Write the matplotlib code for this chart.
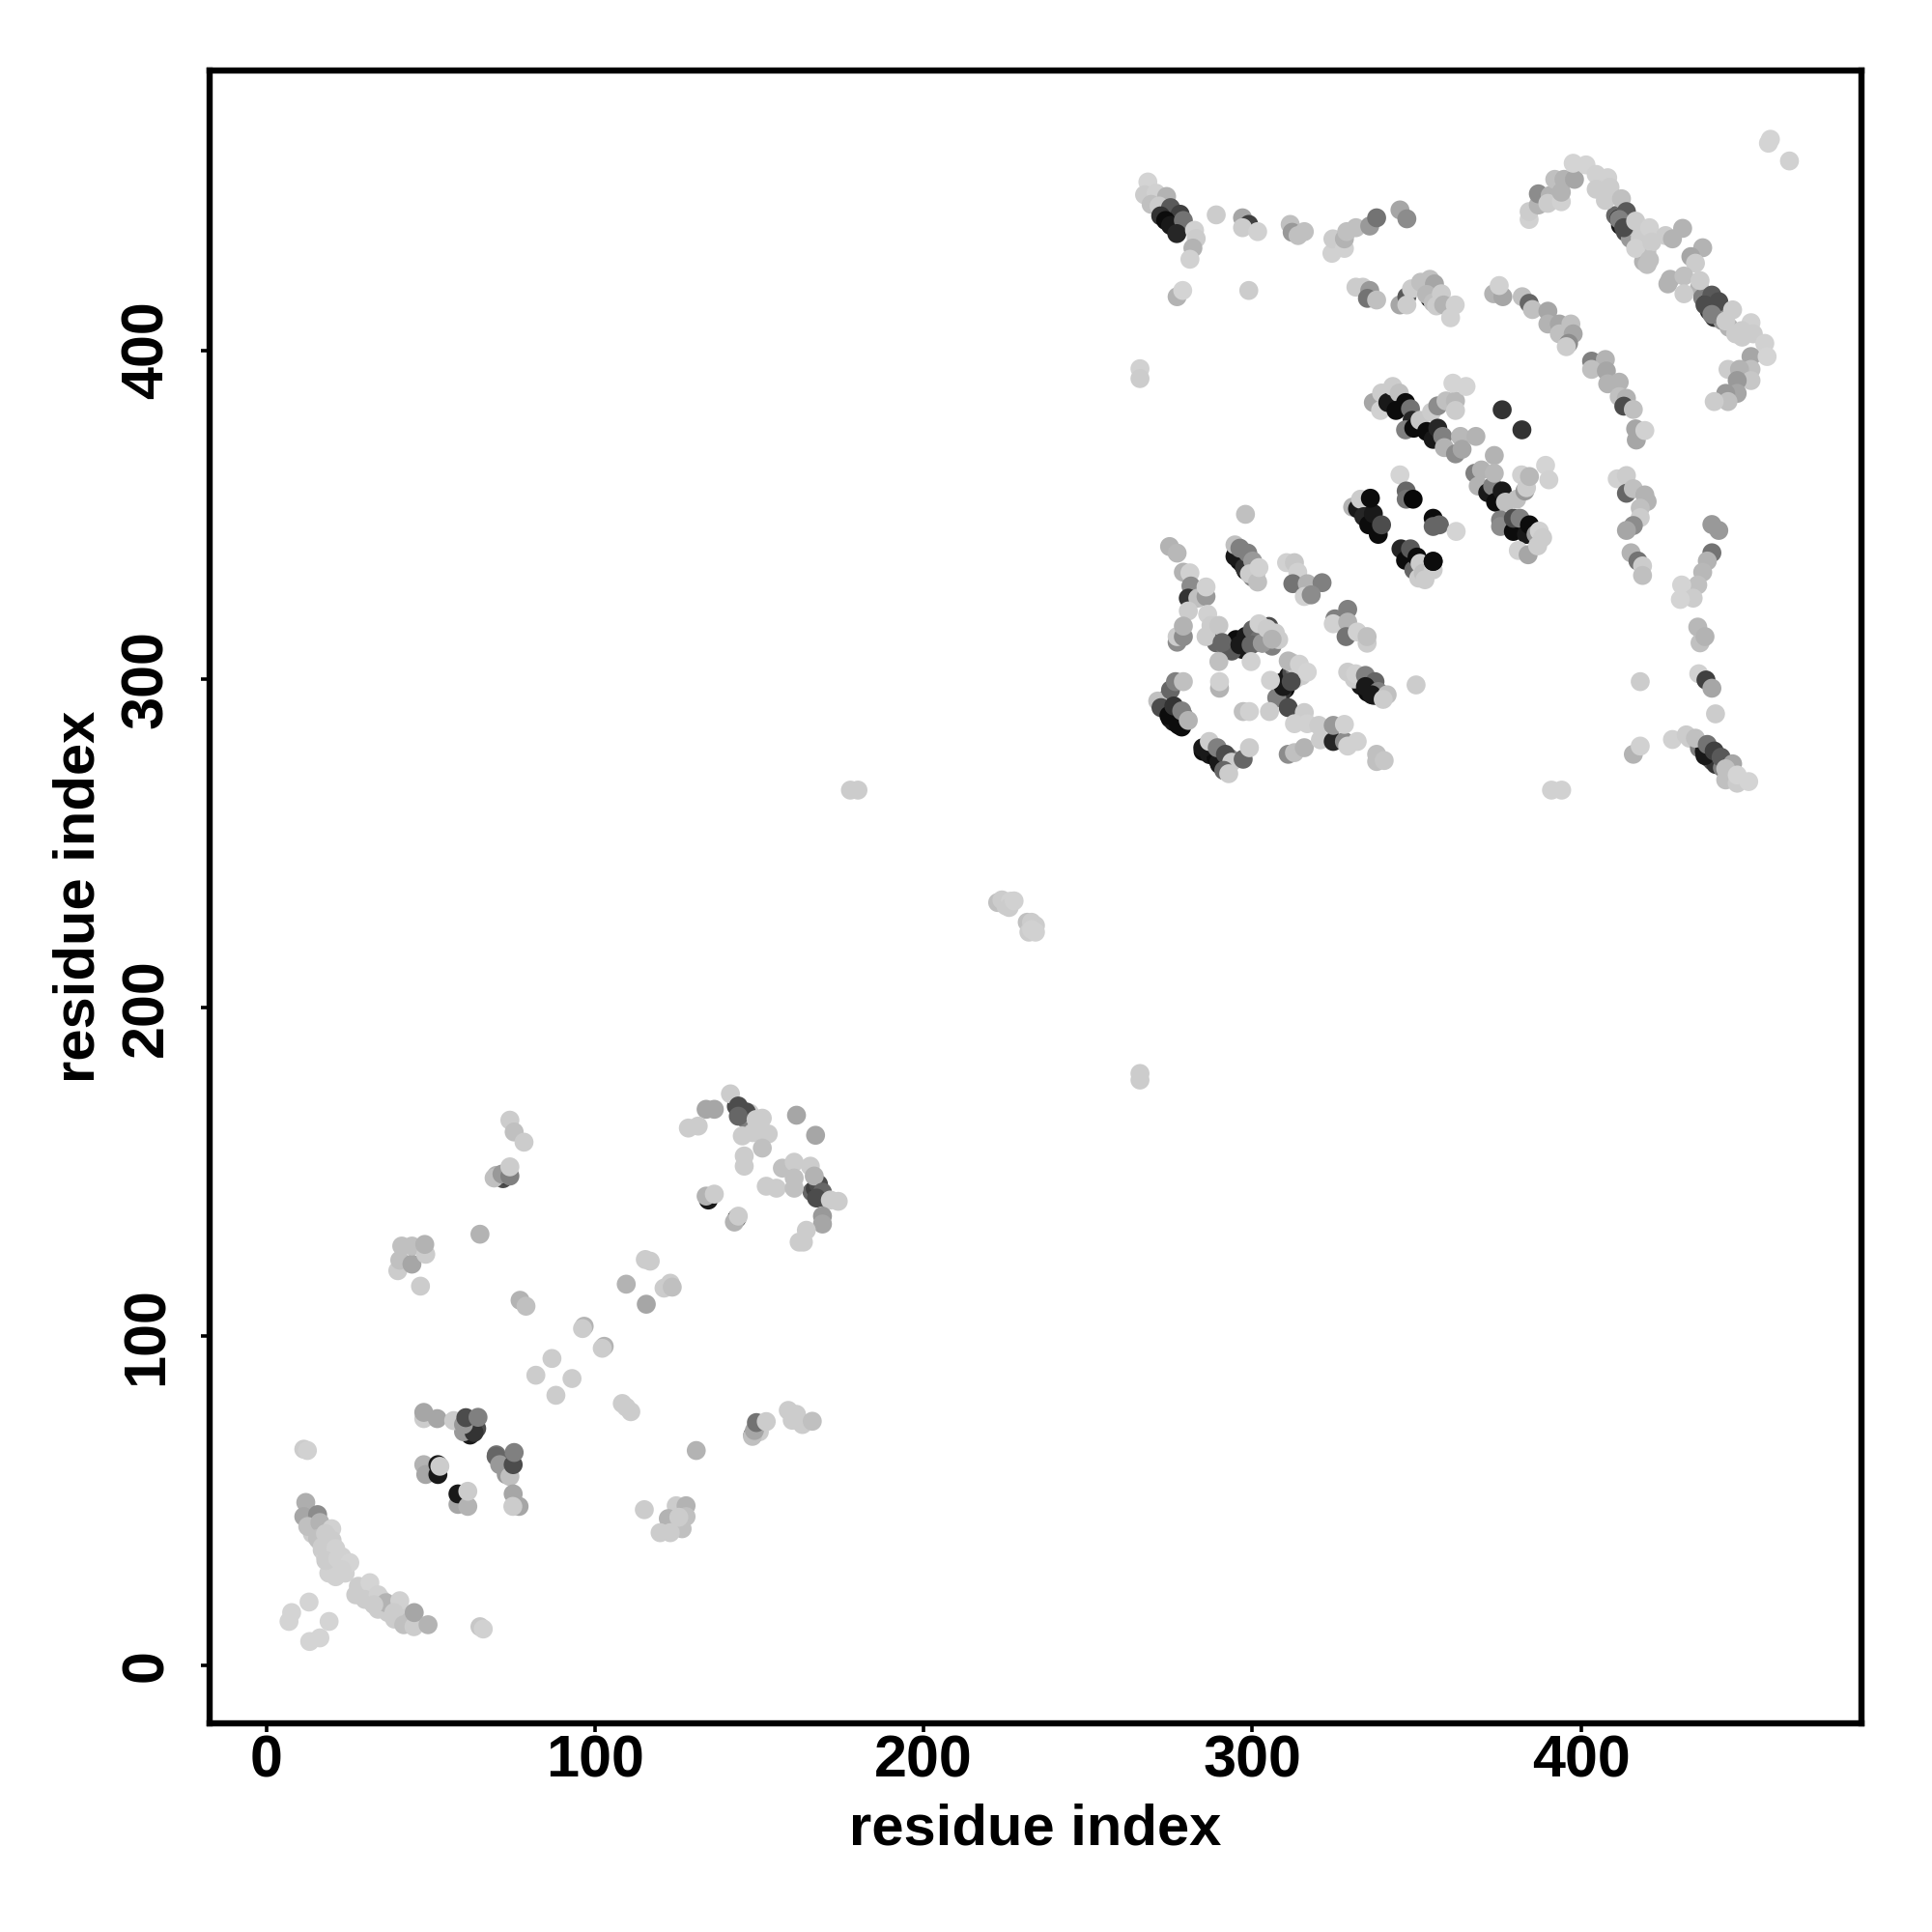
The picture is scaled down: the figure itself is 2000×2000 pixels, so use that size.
import matplotlib
matplotlib.use("Agg")
import matplotlib.pyplot as plt

plt.rcParams['font.family'] = ['Liberation Sans', 'DejaVu Sans']

tick_values = [0, 100, 200, 300, 400]
axis_label = "residue index"

# contacts inside dense strands, lying beneath the others
x_under = [410.5,411.5,412,413.5,415,417,418,419,420,419,436,437,438,439,440.5,442,443,445,447,449,433,436,437.5,439,440,441,443,445,446,274,273.5,275,276,277.5,279,285,287,289,290,292,291,293,295,296,297,298,299,300,301,309,310,309,311,312,313,314,313,315,312,303,304,305,306,307,308,289,292,294,295,297,298,300,302,333,335,336,335,337,338,331,14,16,17,18,19,20,22,24,23,22,20,19,28,29,31,32,35,38,34,37,39,40,43,43,59,61,62,64,62,60,70,72,74,73,143,145,146,147,148,150,70,72,73,166,167,168,170,148,149,150]
y_under = [441,440,438,436,434,437,434,436,430,427,419,416,414,412,410,412,409,407,405,404,282,279,278,276,275,274,273,271,270,294,291,288,287,286,289,278,277,276,274,272,275,276,338,336,335,333,335,331,332,299,297,296,301,302,303,304,300,301,305,311,313,316,310,314,312,311,309,310,312,309,313,315,312,298,299,297,296,295,295,300,40,38,35,33,36,33,30,28,33,28,30,28,24,22,20,22,20,18,17,16,14,15,15,13,74,72,70,72,74,71,64,62,60,58,170,167,166,168,162,163,149,148,149,144,145,143,142,70,72,71]
g_under = [.4,.2,.1,.3,.6,.75,.8,.8,.75,.7,.7,.5,.2,.15,.2,.5,.6,.7,.8,.8,.8,.5,.1,.05,.3,.2,.5,.75,.8,.4,.1,.05,.1,.05,.5,.05,.1,.05,.1,.2,.5,.55,.15,.05,.05,.1,.4,.5,.65,.1,.05,.2,.1,.3,.45,.7,.8,.8,.8,.1,.1,.3,.5,.8,.8,.4,.5,.05,.05,.1,.1,.4,.45,.1,.5,.4,.05,.2,.3,.8,.8,.8,.8,.82,.8,.82,.82,.82,.82,.82,.82,.82,.8,.8,.8,.82,.8,.8,.8,.8,.8,.8,.8,.75,.4,.5,.1,.3,.25,.6,.45,.3,.2,.6,.3,.25,.5,.8,.8,.8,.7,.3,.2,.4,.25,.2,.45,.3,.5,.8]

# lower-left domain
x_strand = [12,11.4,15.6,12.6,16.3,19.9,15.6,18,17,20,21.1,18.1,21.7,25.4,21.1,23,27.2,31.5,30,34,36.4,32.7,40.6,38.8,41.8,44.9,45,49.2,6.9,7.7,13,19.1,16.3,13.2,65,66,11.4,12.5]
y_strand = [49.5,45.2,45.8,42.2,43.4,41.5,38.5,40,36,38,35.5,31.8,32.4,31.2,26.9,29,21.4,25.1,20,21.4,19,18.4,19.6,16,12.3,11.7,16,12.3,13.3,16,19.2,13.3,8.3,7.2,11.7,11,65.7,65.3]
g_strand = [.68,.65,.55,.75,.7,.82,.75,.8,.8,.8,.82,.8,.82,.83,.82,.82,.8,.83,.8,.82,.7,.8,.82,.8,.75,.8,.65,.7,.83,.83,.83,.83,.83,.83,.78,.82,.8,.82]

x_low = [47.9,47.9,52,57,63.2,60,60.7,64.4,47.9,48.5,52.2,52.2,52.8,58.3,58.3,61.3,61.3,69.9,71,74.1,75.1,75.4,75.1,76.9,75,40,40.6,41.2,44.3,44.3,48.5,48.2,46.9,65,74.1,75.4,78.4,69.3,71.7,74.1,74.1,77.2,79,96.7,96.2,102.8,102.2,86.9,82,93,88.1,108.3,109.5,110.9,130.8,115,124.7,127.7,127.7,126.5,122.3,122.9,119.8,125.5,147.9,148.5,149.1,152.1,158.8,161.3,163.1,166.1,160]
y_low = [75,76.9,75,74.4,70.8,73.2,75.3,75.4,61,58,58,61,60.5,48.9,52.1,48.3,52.9,63.5,61,57.4,61,64.7,52.1,48.3,48.3,120,123.2,127.5,122,127.5,125,128,115.3,131.1,165.8,162.2,159.1,148.2,149.4,148.8,151.6,111,109.2,103.1,102.4,97,96.4,93.3,88.2,87.2,82.1,79.6,78.5,77.1,65.3,47.3,48.5,48.5,45.2,41.5,44.6,40.3,40.3,45,69.6,71.4,73.8,74.1,77.5,76.3,73.2,74.2,74.5]
g_low = [.8,.65,.65,.8,.2,.6,.3,.5,.7,.65,.1,.1,.8,.65,.1,.7,.8,.4,.6,.75,.3,.5,.65,.65,.8,.8,.75,.75,.65,.75,.8,.7,.8,.7,.8,.75,.8,.75,.6,.5,.8,.7,.75,.7,.8,.7,.8,.8,.8,.8,.8,.8,.8,.8,.7,.8,.8,.7,.75,.75,.7,.8,.8,.8,.75,.65,.45,.8,.8,.8,.8,.75,.8]

x_mid1 = [115.6,109.5,115.3,116.8,121,122.9,123.5,133.8,136.3,128.4,131.4,141.2,143.6,146,143.6,150.9,149,161.3,167.1,152.7,144.8,150.9,145.4,145.4,157,160.6,165.5,160.6,168,166.7,152.1,155.2,160.6,169.2,167.4,171.6,174,169.2,169.2,164.3,162.1,163.4,134.5,133.8,136.3,143.2,142.4,143.6]
y_mid1 = [109.8,115.9,123.4,122.9,114.7,116.2,115,169.1,169.1,163.4,164,173.8,170.1,168.3,167,166.4,166,167.3,161.2,161.6,161,157.3,154.9,151.8,151.2,153,151.8,148.2,146.3,148.8,145.7,145.1,145.1,143.9,142.1,141.5,141.1,136.6,134.2,132.3,128.7,128.7,141.5,142.7,143.3,136,134.8,136.6]
g_mid1 = [.65,.7,.8,.8,.8,.8,.75,.65,.65,.8,.8,.8,.3,.3,.4,.8,.8,.65,.65,.8,.8,.75,.8,.8,.75,.8,.8,.75,.3,.7,.8,.8,.75,.4,.3,.8,.8,.6,.65,.8,.8,.8,.1,.7,.8,.1,.7,.8]

# isolated off-diagonal contacts
x_iso = [177.7,180,222.5,223.8,225,226.4,226,227.5,231.5,232.8,234,232,234,232.8,265.8,265.8,265.8,265.8,391,394.1]
y_iso = [266.2,266.2,232,232.8,231,232.4,230.5,232.5,226,226,225,223,223,223.8,180,178,394.4,391.4,266.2,266.2]
g_iso = [.8,.8,.75,.8,.8,.82,.8,.82,.75,.8,.8,.8,.82,.82,.8,.8,.82,.8,.82,.82]

# upper-right domain, outer band
x_top = [268.2,267.2,270.7,269.2,273.9,271.6,275.1,272.1,278,273.6,275.1,279,277,282.4,282.9,281.9,281,289,297,298.9,297,301.6,311.5,312.1,313.9,315.8,324.2,324.5,328,328,328.7,331.5,335.7,337.8,344.9,347,277.1,278.8,298.9,331.5,333.6,335.7,335,337.8,344.9,347,347,348.4,351.2,354,355.4,354,353,355,356,357.5,358.2,361.7,360.3]
y_top = [451.2,447.3,447.8,444.4,446.8,443.9,443.4,440.9,441.4,439.5,438,439.5,435.5,436.5,434,431.1,427.7,441.2,440.3,438.3,437.3,436.1,438.3,435.9,434.9,436.1,429.5,433.9,431,433.9,436.1,437.3,437.8,440.3,442.7,440,416.3,418.2,418.2,419.2,419.2,418.2,415.8,415.3,413.8,416.3,413.8,418.7,420.7,421.6,420.2,415.8,417,414.5,413.5,417.2,413.8,413.8,409.9]
g_top = [.83,.8,.82,.75,.7,.8,.35,.2,.25,.05,.1,.45,.15,.82,.8,.7,.82,.8,.65,.25,.8,.82,.75,.6,.75,.75,.82,.8,.82,.7,.75,.75,.6,.45,.65,.55,.7,.83,.8,.8,.8,.6,.45,.75,.65,.35,.8,.8,.75,.75,.65,.1,.72,.75,.8,.8,.7,.82,.82]

x_arc = [373.4,376.2,375.1,382.1,384.2,385.2,389.9,389.9,393.4,393.4,396.9,397.6,396.2,395.5,403.2,407.4,403.2,407.7,408.1,411.6,411.6,413.8,413,415.9,416.6,416.8,419.4,384.2,384.2,387,387,390.6,392,389.9,394,394.8,394,398,397.6,401.5,404.6,408.1,404.6,408.8,407.4,412.3,413.8,411.6,413,416.6,420.8,416.6,421.5,420.8,420.1,425.7,427.8,430.9]
y_arc = [417.2,416.3,419.7,416.3,414.3,412.4,411.9,408,408,405,408,405,402.1,401.1,396.7,397.2,394.2,393.7,389.8,390.3,385.9,385.4,383,382,376.1,372.7,375.6,439.8,442.2,444.2,447.6,447.1,452,444.7,445.2,452,448.1,452,456.9,456.4,453.5,452.5,449,449.6,445.6,446.1,442.2,439.8,437.3,439.3,437.3,431,432.9,427.5,426.1,434.9,433.9,437.1]
g_arc = [.7,.65,.82,.75,.4,.75,.65,.7,.65,.75,.75,.65,.55,.8,.5,.7,.75,.65,.7,.7,.75,.7,.3,.75,.65,.65,.82,.82,.8,.7,.55,.7,.75,.8,.82,.7,.7,.65,.83,.83,.82,.82,.8,.8,.8,.75,.35,.5,.3,.8,.82,.82,.8,.75,.75,.8,.7,.7]

x_right = [437,433.4,434.8,427.1,426.4,431.3,431.3,436.2,439.8,437.7,441.9,439.8,446.1,444,451.7,448.9,452.4,455.9,451.7,456.6,451.7,444.7,448.2,451.7,447.5,447.5,444,444.7,440.5,457.6,457,463.4]
y_right = [431.2,428.5,426.5,421.6,420.2,422.6,417.2,421.2,416.8,413.8,414.8,410.9,412.3,408.9,408.4,406,405,402.1,398.1,398.1,394.2,394.2,394.2,390.8,390.8,386.9,386.9,384.4,384.4,464.2,463,457.6]
g_right = [.7,.65,.8,.7,.7,.75,.8,.8,.35,.3,.3,.5,.8,.8,.82,.8,.8,.82,.65,.83,.75,.8,.7,.78,.6,.65,.6,.75,.8,.83,.83,.82]

# upper-right domain, central strands
x_core1 = [376,382,336.8,339.3,339,341.2,342.7,344.7,343.7,346.6,348.1,348.6,346.6,349.1,351,353,354.5,355,356.4,356.4,357.9,358.9,358.4,361.8,361.8,361,365,361.8,363.3,363.8,368]
y_core1 = [381.9,375.8,384.1,387,381.7,384.1,389,387,381.7,384.1,382.2,378.7,375.8,376.3,378.7,375.3,381.2,372.9,383.1,376.3,373.8,384.6,370.4,384.6,381.7,390,389,368.5,373.8,369.9,373.8]
g_core1 = [.2,.2,.65,.8,.82,.1,.8,.75,.05,.05,.45,.15,.5,.05,.78,.05,.8,.1,.55,.15,.5,.75,.7,.72,.8,.83,.83,.55,.72,.65,.7]

x_core2 = [367.7,369.7,368.7,371.6,373.1,373.6,373.6,374,376,377,380.4,381.9,382.9,383.4,384.3,389.2,390.2,375.5,375.5,379.4,379.4,381.4,383.4,384.3,380.9,383.9,386.3,387.3,386.8,388.3]
y_core2 = [362.6,363.6,358.7,356.7,358.7,368,362.6,353.8,357.2,353.8,354.7,362.1,357.2,358.2,361.6,365,360.6,348.4,346.4,344.9,348.9,348.9,344,346.9,339.1,337.8,344,345,340.5,343]
g_core2 = [.5,.7,.7,.1,.5,.7,.72,.05,.1,.75,.75,.82,.6,.8,.72,.83,.82,.5,.55,.05,.3,.5,.1,.05,.82,.65,.6,.82,.8,.8]

x_core3 = [330.5,332,332.9,333.9,335.4,336.8,338.3,335.9,339.3,344.9,346.8,346.8,348.9,355,355,356.9,362,345.2,346.6,348.1,349.1,350.1,350.6,351,352,352.5,355,355,355]
y_core3 = [352.3,351.8,354.7,349.4,346.9,350.3,344,355,346.9,362.1,357.2,354.7,354.7,348.9,346.4,346.9,344.9,339.6,336.1,339.6,333.2,337.1,330.7,335.2,332.2,330.2,333.2,335.8,335.8]
g_core3 = [.7,.1,.8,.15,.05,.1,.05,.05,.3,.83,.4,.45,.03,.05,.4,.4,.83,.15,.05,.35,.4,.05,.8,.8,.75,.8,.8,.05,.05]

x_edge = [411,413.8,413.8,415.9,419.4,420.1,418,418,415.9,413.8,415.2,417.3,418.7,418.7,439.8,441.9,439.8,438.4,437,435.5,430.6,434.1,430.2,435.5,436.2,437.7,435.8,438,439.8,418,440.9,415.9,418,427.8,432,434.8,437.7,438.4,440.5,442.6,446.1,444,444,447.5,447.5,451,349.8]
y_edge = [360.9,361.9,356.5,357.9,356,354,352,349.1,346.7,345.2,338.4,335.9,334.4,331.5,347,345.2,338.4,335.9,332.5,328.6,328.6,324.6,324.2,315.8,311,312.9,301.6,299.7,297.2,299.2,289.4,277.1,279.6,281.6,283,282,276.7,280.1,278.1,276.2,274.2,272.7,269.3,268.3,270.8,268.8,298.2]
g_edge = [.82,.8,.4,.75,.7,.7,.75,.8,.55,.65,.7,.45,.8,.75,.6,.6,.45,.7,.72,.75,.83,.8,.83,.72,.75,.7,.82,.25,.65,.8,.8,.7,.82,.82,.8,.75,.1,.45,.25,.35,.65,.75,.75,.8,.83,.83,.8]

x_left = [297.9,274.8,277.1,294.7,294.7,296.2,297.6,298.6,300.1,299.1,301.6,302,279,281,281.3,280.5,283.4,285.9,285.9,280.5,286.4,285.9,287.4,289.8,277.1,277.1,279,279,293.7,290.8,296.2,299.6,303,302,304.5,306,289.8,299.6,290,290]
y_left = [350.1,340.3,338.3,337.3,340.8,339.8,333.9,338.3,335.9,332,329.5,333.9,332.5,332.3,328.3,324.6,324.6,325.1,328,320.7,319.7,312.9,316.3,316.3,311.2,312.9,312.9,316.1,308.5,311.1,310.4,310.4,310.9,316.8,315.3,312.1,305.3,305.3,297.2,299.2]
g_left = [.75,.7,.72,.1,.75,.5,.2,.5,.6,.8,.75,.82,.7,.82,.55,.2,.75,.6,.82,.8,.82,.8,.8,.78,.55,.8,.55,.7,.35,.4,.1,.4,.6,.82,.8,.7,.75,.82,.7,.82]

x_base = [307.4,310.9,309.4,311.8,305.5,310.9,314.3,316.7,297.2,299.1,305.2,271.2,272.2,274.6,275.1,276.6,279,276.1,278.5,278.5,280.5,284.9,286.9,289.8,289.3,291.8,293.7,291.3,292.8,297.2,299.1,310.9,312.8,315.8,315.8,312.8,316.7,320.2,320.7,324.6,324.6,328,328,329,331.9,337.8,337.8,340.1]
y_base = [294.3,291.3,297.7,299.2,299.6,305.5,304.5,302.1,290.1,290.1,290.1,293.3,291.3,288.9,296.7,299.2,299.2,291.8,285.4,290.3,287.4,279.1,281,274.7,279.1,277.1,274.7,272.2,271.2,275.6,279.1,277.1,277.6,279.1,289.8,286.4,286.4,285.9,281.5,281,285.9,281,286.2,279.6,281,277.1,274.9,275.2]
g_base = [.5,.3,.1,.3,.82,.72,.82,.83,.75,.82,.8,.75,.3,.05,.4,.5,.75,.2,.05,.5,.7,.1,.8,.1,.5,.3,.8,.4,.8,.4,.8,.55,.75,.7,.8,.82,.82,.8,.8,.15,.6,.55,.82,.82,.82,.75,.75,.78]

x_patch = [329,325.1,324.6,329,328.5,331.9,334.9,334.9,329,331.4,334.4,337.3,334.4,338.3,336.3,341,339.8,310.4,312.8,313.8,312.3,316.7,321.2,315.8,317.9]
y_patch = [321.2,318.3,316.8,317.3,312.9,314.3,310.9,312.9,302.1,301.6,301.1,299.2,297.7,296.2,295.2,295.2,293.8,335.4,335.4,332.5,329,329,329.3,325.1,325.6]
g_patch = [.5,.5,.82,.7,.45,.82,.8,.75,.8,.82,.5,.4,.1,.5,.1,.75,.8,.82,.78,.82,.45,.7,.5,.82,.55]

x_all = x_under + x_strand + x_low + x_mid1 + x_iso + x_top + x_arc + x_right + x_core1 + x_core2 + x_core3 + x_edge + x_left + x_base + x_patch
y_all = y_under + y_strand + y_low + y_mid1 + y_iso + y_top + y_arc + y_right + y_core1 + y_core2 + y_core3 + y_edge + y_left + y_base + y_patch
g_all = g_under + g_strand + g_low + g_mid1 + g_iso + g_top + g_arc + g_right + g_core1 + g_core2 + g_core3 + g_edge + g_left + g_base + g_patch

L, R, T, B = 216.5, 1927.3, 72.7, 1784.0
fig = plt.figure(figsize=(10, 10), dpi=200, facecolor="white")
ax = fig.add_axes([L/2000, 1 - B/2000, (R-L)/2000, (B-T)/2000])
ax.scatter(x_all, y_all, c=g_all, cmap="gray", vmin=0, vmax=1, s=50, linewidths=0, zorder=2)
ax.set_xlim(-17.4, 485.4)
ax.set_ylim(-17.7, 485.2)

for s in ax.spines.values():
    s.set_linewidth(2.3)
ax.set_xticks(tick_values)
ax.set_yticks(tick_values)
ax.tick_params(axis="both", length=3.2, width=1.3, labelsize=22)
ax.tick_params(axis="x", pad=0.9)
ax.tick_params(axis="y", pad=9.4)
for t in ax.get_xticklabels():
    t.set_fontweight("bold")
for t in ax.get_yticklabels():
    t.set_fontweight("bold")
    t.set_rotation(90)
    t.set_va("center")
ax.set_xlabel(axis_label, fontsize=21.5, fontweight="bold")
ax.set_ylabel(axis_label, fontsize=21.5, fontweight="bold")
ax.xaxis.set_label_coords(0.5, (B - 1894.5) / (B - T), transform=ax.transAxes)
ax.yaxis.set_label_coords((81.5 - L) / (R - L), 0.5, transform=ax.transAxes)
ax.xaxis.label.set_va("center")
ax.yaxis.label.set_va("center")

fig.savefig("out.png", dpi=200)
